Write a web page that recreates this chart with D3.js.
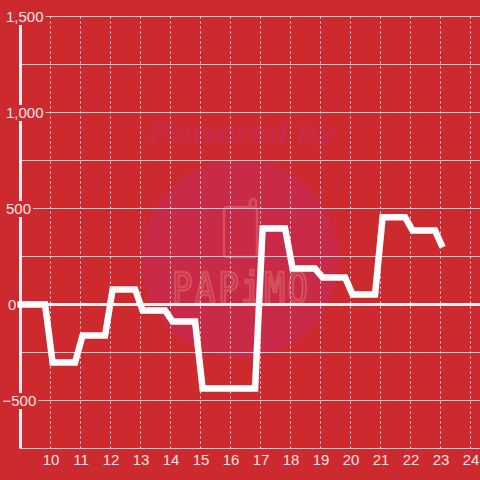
<!DOCTYPE html>
<html>
<head>
<meta charset="utf-8">
<script src="https://cdn.jsdelivr.net/npm/d3@7"></script>
<style>
html, body { margin: 0; padding: 0; background: #cc2a2e; }
svg { display: block; font-family: "Liberation Sans", Arial, sans-serif; }
</style>
</head>
<body>
<svg id="chart" width="480" height="480"></svg>
<script>
const BG = '#cc2a2e';
const GRID = '#d6cfcf';
const AXIS = '#f0eeee';
const LABEL = '#f6e3e3';
const MARK = '#d6505c';

const hours = [8.9, 9.82, 10.07, 10.82, 11.07, 11.82, 12.07, 12.82, 13.07, 13.82, 14.07, 14.82, 15.07, 16.82,
  17.07, 17.82, 18.07, 18.82, 19.07, 19.82, 20.07, 20.82, 21.07, 21.82, 22.07, 22.82, 23.07];
const values = [0, 0, -302, -302, -161, -161, 78, 78, -31, -31, -89, -89, -437, -437,
  396, 396, 187, 187, 141, 141, 52, 52, 455, 455, 385, 385, 298];
const xTicks = [10, 11, 12, 13, 14, 15, 16, 17, 18, 19, 20, 21, 22, 23, 24];
const yTicks = [-500, -250, 0, 250, 500, 750, 1000, 1250, 1500];
const yLabels = [-500, 0, 500, 1000, 1500];

const x = d3.scaleLinear().domain([9, 24]).range([20.5, 470.5]);
const y = d3.scaleLinear().domain([-750, 1500]).range([448.5, 16.5]);

const svg = d3.select('#chart');
svg.append('rect').attr('width', 480).attr('height', 480).attr('fill', BG);

// watermark
const wm = svg.append('g');
wm.append('circle').attr('cx', 240).attr('cy', 259).attr('r', 99).attr('fill', '#c92a48');
wm.append('text').attr('x', 243).attr('y', 143)
  .attr('text-anchor', 'middle').attr('font-size', 30).attr('font-weight', 'bold').attr('font-style', 'italic')
  .attr('textLength', 186).attr('lengthAdjust', 'spacingAndGlyphs').attr('fill', '#c92a48').text('Powered by');
wm.append('rect').attr('x', 224).attr('y', 207).attr('width', 33).attr('height', 50).attr('rx', 3)
  .attr('fill', 'none').attr('stroke', MARK).attr('stroke-width', 2.5);
wm.append('path').attr('d', 'M250,207 V201 Q254,197 256,201 V207')
  .attr('fill', 'none').attr('stroke', MARK).attr('stroke-width', 2.5);
wm.append('text').attr('transform', 'translate(240,303) scale(1,1.25)')
  .attr('text-anchor', 'middle').attr('font-size', 34).attr('font-family', '"DejaVu Sans Mono", monospace')
  .attr('textLength', 136).attr('fill', 'none').attr('stroke', MARK).attr('stroke-width', 2).text('PAPiMO');

// grid
svg.append('g').selectAll('line').data(yTicks).join('line')
  .attr('x1', 20).attr('x2', 480)
  .attr('y1', d => y(d)).attr('y2', d => y(d))
  .attr('stroke', d => d === 0 ? AXIS : GRID)
  .attr('stroke-width', d => d === 0 ? 3 : 1);
svg.append('line').attr('x1', 20).attr('x2', 480).attr('y1', y(-750)).attr('y2', y(-750))
  .attr('stroke', GRID);
svg.append('g').selectAll('line').data(xTicks).join('line')
  .attr('x1', d => x(d)).attr('x2', d => x(d))
  .attr('y1', y(1500)).attr('y2', y(-750))
  .attr('stroke', '#e6e6e0').attr('stroke-dasharray', '2,3');

// left axis bar
svg.append('line').attr('x1', 20.5).attr('x2', 20.5).attr('y1', 24).attr('y2', y(-750))
  .attr('stroke', AXIS).attr('stroke-width', 3);

// y labels, with a background box that cuts the grid and the axis bar
const yAxis = svg.append('g')
  .call(d3.axisLeft(y).tickValues(yLabels).tickSize(0).tickFormat(d3.format(',')));
yAxis.select('.domain').remove();
yAxis.selectAll('text')
  .attr('font-size', 15).attr('fill', LABEL).attr('text-anchor', 'start').attr('font-family', '"Liberation Sans"')
  .attr('dy', '0.35em')
  .attr('x', d => d === 0 ? 8 : d === -500 ? 2.5 : 6);
yAxis.selectAll('.tick').each(function () {
  const t = d3.select(this);
  const b = t.select('text').node().getBBox();
  t.insert('rect', 'text').attr('x', b.x - 2).attr('y', -8).attr('width', b.width + 4).attr('height', 16).attr('fill', BG);
});

// x labels
const xAxis = svg.append('g').attr('transform', `translate(0,${y(-750)})`)
  .call(d3.axisBottom(x).tickValues(xTicks).tickSize(0).tickFormat(d3.format('d')));
xAxis.select('.domain').remove();
xAxis.selectAll('text').attr('font-size', 15).attr('fill', LABEL).attr('font-family', '"Liberation Sans"').attr('y', 6);

// series
const line = d3.line().x((d, i) => x(hours[i])).y(d => y(d));
svg.append('path').datum(values).attr('d', line)
  .attr('fill', 'none').attr('stroke', '#fff').attr('stroke-width', 6.5)
  .attr('stroke-linejoin', 'miter').attr('stroke-linecap', 'butt');
</script>
</body>
</html>
